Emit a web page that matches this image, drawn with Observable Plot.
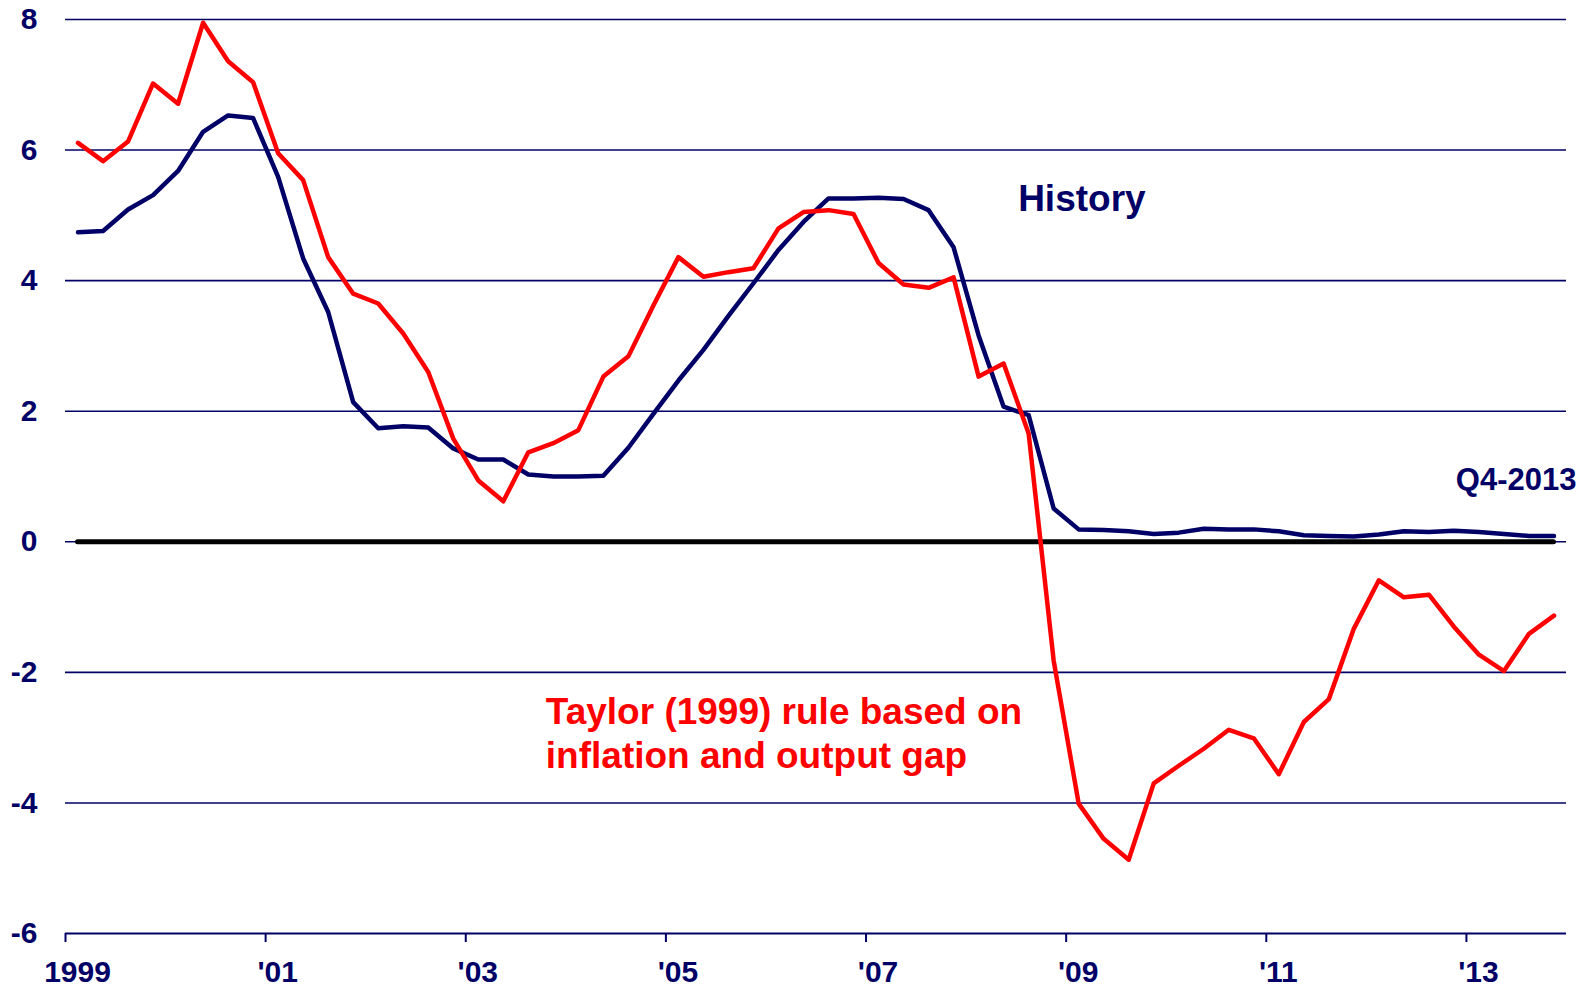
<!DOCTYPE html>
<html>
<head>
<meta charset="utf-8">
<script src="https://cdn.jsdelivr.net/npm/d3@7"></script>
<script src="https://cdn.jsdelivr.net/npm/@observablehq/plot@0.6"></script>
<style>
  html, body { margin: 0; padding: 0; background: #fff; overflow: hidden; }
  #chart svg { display: block; }
</style>
</head>
<body>
<div id="chart"></div>
<script>
// Quarterly observations, 1999 Q1 – 2013 Q4 (plotted at mid-quarter)
const quarters = d3.range(60).map(i => 1999 + Math.floor(i / 4) + ((i % 4) + 0.5) / 4);

// History: actual policy rate (%)
const history = [
  4.74, 4.76, 5.09, 5.31, 5.68, 6.28, 6.53, 6.49,
  5.59, 4.34, 3.52, 2.14, 1.74, 1.77, 1.75, 1.43,
  1.26, 1.26, 1.03, 1.00, 1.00, 1.01, 1.44, 1.96,
  2.47, 2.94, 3.46, 3.96, 4.47, 4.90, 5.26, 5.26,
  5.27, 5.25, 5.08, 4.51, 3.16, 2.07, 1.94, 0.51,
  0.19, 0.18, 0.16, 0.12, 0.14, 0.20, 0.19, 0.19,
  0.16, 0.10, 0.09, 0.08, 0.11, 0.16, 0.15, 0.17,
  0.15, 0.12, 0.09, 0.09
];

// Taylor (1999) rule based on inflation and output gap (%)
const taylor = [
  6.11, 5.83, 6.13, 7.02, 6.71, 7.95, 7.36, 7.04,
  5.95, 5.54, 4.36, 3.80, 3.65, 3.19, 2.60, 1.58,
  0.94, 0.62, 1.37, 1.51, 1.71, 2.53, 2.84, 3.62,
  4.36, 4.06, 4.13, 4.19, 4.80, 5.05, 5.08, 5.02,
  4.27, 3.94, 3.89, 4.05, 2.53, 2.73, 1.66, -1.82,
  -4.01, -4.55, -4.87, -3.70, -3.43, -3.17, -2.88, -3.01,
  -3.56, -2.76, -2.41, -1.33, -0.59, -0.85, -0.81, -1.30,
  -1.73, -1.98, -1.41, -1.13
];

const xTicks = [1999, 2001, 2003, 2005, 2007, 2009, 2011, 2013];
const xTickLabels = ["1999", "'01", "'03", "'05", "'07", "'09", "'11", "'13"];
const yTicks = [-6, -4, -2, 0, 2, 4, 6, 8];
const gridValues = [-4, -2, 0, 2, 4, 6, 8];

const labelHistory = "History";
const labelTaylor = "Taylor (1999) rule based on\ninflation and output gap";
const labelEnd = "Q4-2013";

const NAVY = "#000066";
const RED = "#ff0000";

const histData = quarters.map((q, i) => ({q, v: history[i]}));
const taylorData = quarters.map((q, i) => ({q, v: taylor[i]}));

const chart = Plot.plot({
  width: 1595,
  height: 986,
  marginLeft: 65,
  marginRight: 29,
  marginTop: 19,
  marginBottom: 53,
  x: {domain: [1999, 2014]},
  y: {domain: [-6, 8]},
  style: {
    fontFamily: "'Liberation Sans', Arial, Helvetica, sans-serif",
    fontWeight: "bold",
    fontSize: "30px",
    color: NAVY,
    background: "#fff",
    overflow: "visible"
  },
  marks: [
    Plot.ruleY(gridValues, {stroke: NAVY, strokeWidth: 1.6}),
    Plot.ruleY([-6], {stroke: NAVY, strokeWidth: 2}),
    // tick marks only
    Plot.axisX({
      ticks: xTicks,
      tickFormat: () => "",
      tickSize: 9,
      stroke: NAVY,
      strokeWidth: 2,
      label: null
    }),
    // tick labels, nudged right as in the original
    Plot.axisX({
      ticks: xTicks,
      tickFormat: d => xTickLabels[xTicks.indexOf(d)],
      tickSize: 0,
      tickPadding: 27,
      dx: 12,
      fontSize: 30,
      label: null
    }),
    Plot.axisY({
      ticks: yTicks,
      tickFormat: d => String(d),
      tickSize: 0,
      tickPadding: 28,
      fontSize: 30,
      label: null
    }),
    Plot.ruleY([0], {x1: quarters[0], x2: quarters[quarters.length - 1], stroke: "#000", strokeWidth: 5, strokeLinecap: "round"}),
    Plot.line(histData, {x: "q", y: "v", stroke: NAVY, strokeWidth: 4.5, strokeLinejoin: "round", strokeLinecap: "round"}),
    Plot.line(taylorData, {x: "q", y: "v", stroke: RED, strokeWidth: 4.5, strokeLinejoin: "round", strokeLinecap: "round"}),
    Plot.text([labelHistory], {x: 2008.52, y: 5.06, text: d => d, textAnchor: "start", lineAnchor: "bottom", fill: NAVY, fontSize: 37, fontWeight: "bold"}),
    Plot.text([labelEnd], {x: 2014.1, y: 0.80, text: d => d, textAnchor: "end", lineAnchor: "bottom", fill: NAVY, fontSize: 31, fontWeight: "bold"}),
    Plot.text([labelTaylor], {x: 2003.8, y: -3.47, text: d => d, textAnchor: "start", lineAnchor: "bottom", lineHeight: 1.2, fill: RED, fontSize: 37, fontWeight: "bold"})
  ]
});

document.getElementById("chart").appendChild(chart);
</script>
</body>
</html>
